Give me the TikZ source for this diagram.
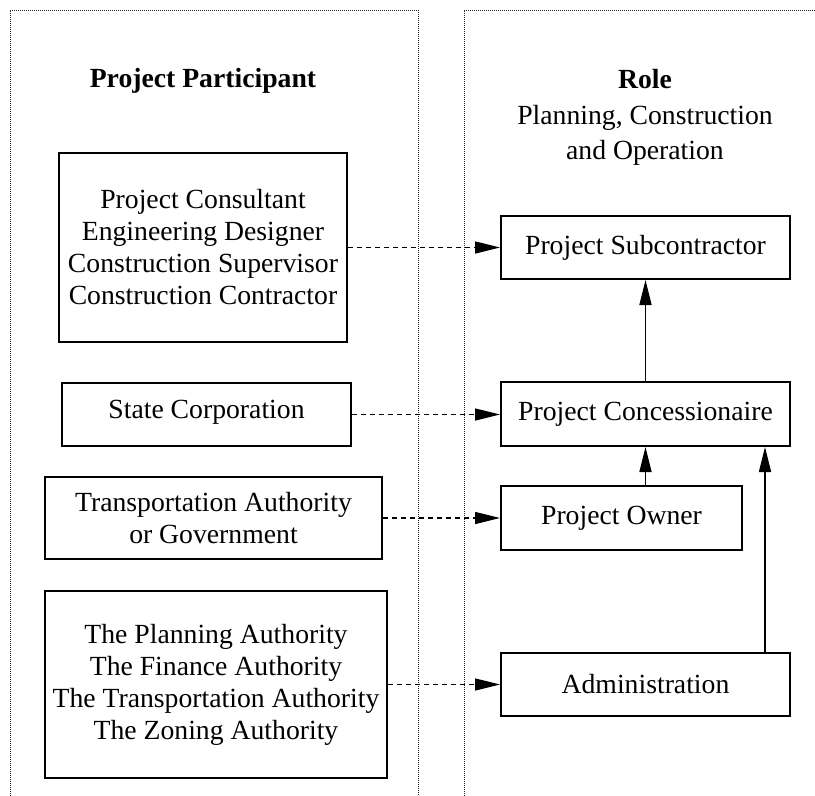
\documentclass[tikz,border=0pt]{standalone}
\usepackage{fontspec}
\setmainfont{Liberation Serif}
\usetikzlibrary{arrows.meta}
\begin{document}
\begin{tikzpicture}[x=1pt,y=-1pt,
  every node/.style={font=\fontsize{27.7}{32}\selectfont},
  panel/.style={draw=black!85, line width=0.9pt, dash pattern=on 1pt off 1pt},
  box/.style={draw, line width=2pt, inner sep=0pt, align=center},
  head/.style={font=\fontsize{27.7}{32}\selectfont\bfseries},
  dasharrow/.style={line width=1.3pt, dash pattern=on 5pt off 4pt, -{Triangle[length=25pt,width=12pt]}},
  solidarrow/.style={line width=1.5pt, -{Triangle[length=25pt,width=12pt]}}]
\useasboundingbox (0,0) rectangle (815,796);
\begin{scope}
\clip (0,0) rectangle (815,796);
\draw[panel] (10,830) -- (10,10) -- (418,10) -- (418,830);
\draw[panel] (464,830) -- (464,10) -- (860,10);
\end{scope}
% headings
\node[head] (hleft) at (203,81) {Project Participant};
\node[head] (hright) at (645,79) {Role};
\node[align=center] (sub) at (645,135) {Planning, Construction\\[3pt]and Operation};
% left boxes
\node[box, minimum width=288pt, minimum height=189pt] (b1) at (203,247.5)
  {Project Consultant\\Engineering Designer\\Construction Supervisor\\Construction Contractor};
\node[box, minimum width=289pt, minimum height=63pt] (b2) at (206.5,414.5)
  {\raisebox{10pt}{State Corporation}};
\node[box, minimum width=337pt, minimum height=82pt] (b3) at (213.5,518)
  {Transportation Authority\\or Government};
\node[box, minimum width=342pt, minimum height=187pt] (b4) at (216,684.5)
  {The Planning Authority\\The Finance Authority\\The Transportation Authority\\The Zoning Authority};
% right boxes
\node[box, minimum width=289pt, minimum height=63pt] (r1) at (645.5,247.5) {Project Subcontractor};
\node[box, minimum width=289pt, minimum height=64pt] (r2) at (645.5,414) {Project Concessionaire};
\node[box, minimum width=241pt, minimum height=64pt] (r3) at (621.5,518) {Project Owner};
\node[box, minimum width=289pt, minimum height=63pt] (r4) at (645.5,684.5) {Administration};
% dashed connectors
\draw[dasharrow] (b1.east |- r1.west) -- (r1.west);
\draw[dasharrow] (b2.east) -- (b2.east -| r2.west);
\draw[dasharrow] (b3.east) -- (r3.west);
\draw[dasharrow] (b4.east) -- (b4.east -| r4.west);
% solid connectors
\draw[solidarrow] (r2.north) -- (r1.south);
\draw[solidarrow] (r3.north -| r2.south) -- (r2.south);
\coordinate (adm) at (765,684.5);
\draw[solidarrow] (adm |- r4.north) -- (adm |- r2.south);
\end{tikzpicture}
\end{document}
